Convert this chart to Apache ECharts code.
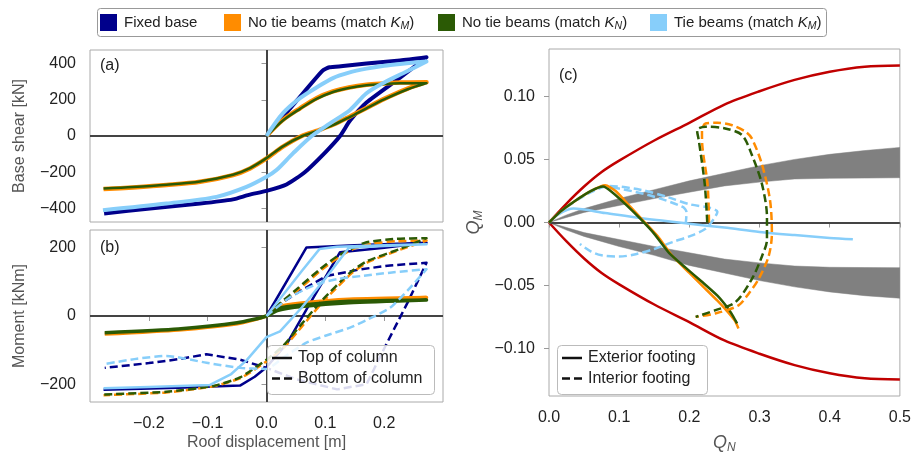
<!DOCTYPE html>
<html><head><meta charset="utf-8">
<script src="https://cdn.jsdelivr.net/npm/echarts@6/dist/echarts.min.js"></script>
<style>html,body{margin:0;padding:0;background:#fff}#c{width:914px;height:459px}</style>
</head><body><div id="c"></div>
<script>
// ---------------- DATA ----------------
// Legend / categories
const modelNames = ['Fixed base', 'No tie beams (match K_M)', 'No tie beams (match K_N)', 'Tie beams (match K_M)'];
const styleNames = ['Top of column', 'Bottom of column'];
const footingNames = ['Exterior footing', 'Interior footing'];

// Tick labels
const dispTicks = [-0.2, -0.1, 0.0, 0.1, 0.2];
const shearTicks = [-400, -200, 0, 200, 400];
const momentTicks = [-200, 0, 200];
const qnTicks = [0, 0.1, 0.2, 0.3, 0.4, 0.5];
const qmTicks = [-0.10, -0.05, 0.00, 0.05, 0.10];

// (a) Base shear [kN] vs roof displacement [m]
const shearFixed = [[0,0],[0.05,190],[0.095,360],[0.107,380],[0.13,386],[0.17,400],[0.227,417],[0.272,435],
  [0.227,322],[0.17,185],[0.142,85],[0.125,0],[0.1,-90],[0.065,-200],[0.034,-268],[0,-303],[-0.03,-325],
  [-0.057,-350],[-0.113,-373],[-0.198,-400],[-0.276,-428]];
const shearNoTieKM = [[0,0],[0.028,89],[0.057,153],[0.085,209],[0.113,246],[0.14,268],[0.17,283],[0.2,290],[0.227,295],[0.272,297],
  [0.24,262],[0.2,205],[0.17,155],[0.142,108],[0.113,62],[0.085,28],[0.06,0],[0.028,-59],[0,-124],
  [-0.028,-179],[-0.057,-216],[-0.113,-253],[-0.17,-271],[-0.227,-284],[-0.277,-293]];
const shearNoTieKN = [[0,0],[0.028,86],[0.057,150],[0.085,205],[0.113,243],[0.14,265],[0.17,280],[0.2,287],[0.227,291],[0.272,292],
  [0.24,258],[0.2,202],[0.17,153],[0.142,106],[0.113,60],[0.085,26],[0.061,0],[0.028,-57],[0,-122],
  [-0.028,-177],[-0.057,-214],[-0.113,-251],[-0.17,-269],[-0.227,-282],[-0.277,-290]];
const shearTie = [[0,0],[0.028,126],[0.057,209],[0.085,268],[0.113,320],[0.14,350],[0.17,372],[0.2,388],[0.227,398],[0.272,412],
  [0.238,356],[0.198,292],[0.17,236],[0.142,144],[0.108,70],[0.077,0],[0.045,-96],[0.017,-188],[0,-225],
  [-0.034,-281],[-0.085,-336],[-0.17,-373],[-0.278,-410]];

// (b) Moment [kNm] vs roof displacement [m]; Top = solid, Bot = dashed
const momFixedTop = [[0,0],[0.068,201],[0.15,207],[0.272,215],[0.2,200],[0.125,187],[0.07,25],[0.035,-80],[0,-150],
  [-0.02,-178],[-0.045,-204],[-0.15,-210],[-0.277,-216]];
const momFixedBot = [[0,0],[0.026,39],[0.056,72],[0.102,117],[0.16,137],[0.21,148],[0.272,156],[0.24,40],[0.203,-85],
  [0.17,-200],[0.12,-215],[0.05,-185],[0,-152],[-0.045,-128],[-0.102,-112],[-0.147,-126],[-0.2,-138],[-0.275,-152]];
const momNoTieKMTop = [[0,0],[0.02,22],[0.06,35],[0.14,45],[0.272,54],[0.14,49],[0.06,38],[0.02,27],[0,0],
  [-0.05,-23],[-0.15,-41],[-0.275,-53]];
const momNoTieKMBot = [[0,0],[0.028,40],[0.055,78],[0.095,137],[0.125,175],[0.15,198],[0.18,212],[0.22,219],[0.272,221],
  [0.23,196],[0.175,160],[0.146,127],[0.1,49],[0.061,-29],[0.032,-88],[0.004,-128],[-0.042,-180],[-0.088,-205],
  [-0.17,-224],[-0.277,-232]];
const momNoTieKNTop = [[0,0],[0.02,17],[0.06,28],[0.14,39],[0.272,47],[0.14,43],[0.06,32],[0.02,22],[0,0],
  [-0.05,-20],[-0.15,-38],[-0.275,-49]];
const momNoTieKNBot = [[0,0],[0.025,40],[0.051,78],[0.091,137],[0.12,175],[0.142,195],[0.17,216],[0.22,226],[0.272,228],
  [0.226,196],[0.17,160],[0.142,127],[0.096,49],[0.057,-29],[0.028,-88],[0,-128],[-0.045,-180],[-0.09,-205],
  [-0.17,-222],[-0.277,-230]];
const momTieTop = [[0,0],[0.03,66],[0.06,132],[0.09,196],[0.12,203],[0.2,207],[0.272,210],[0.2,205],[0.14,200],
  [0.1,110],[0.06,25],[0.023,-45],[0,-62],[-0.034,-130],[-0.06,-170],[-0.096,-202],[-0.2,-208],[-0.277,-212]];
const momTieBot = [[0,0],[0.04,55],[0.085,93],[0.12,108],[0.16,117],[0.21,127],[0.272,137],[0.24,75],[0.21,24],
  [0.17,-12],[0.142,-34],[0.1,-58],[0.068,-78],[0.03,-120],[0,-155],[-0.045,-152],[-0.102,-137],[-0.17,-117],
  [-0.22,-125],[-0.272,-140]];

// (c) Q_M vs Q_N
const boundQN = [0,0.025,0.05,0.075,0.1,0.15,0.2,0.25,0.3,0.35,0.4,0.45,0.5];
const boundQMUpper = [0,0.0150,0.0285,0.0400,0.0490,0.0650,0.0790,0.0935,0.1040,0.1130,0.1195,0.1235,0.1245];
const boundQMLower = [0,-0.0150,-0.0285,-0.0400,-0.0490,-0.0650,-0.0790,-0.0935,-0.1040,-0.1130,-0.1195,-0.1235,-0.1245];
const bandQN = [0,0.025,0.05,0.1,0.15,0.2,0.25,0.3,0.35,0.4,0.45,0.5];
const bandPosHi = [0,0.006,0.011,0.019,0.026,0.033,0.039,0.045,0.050,0.054,0.057,0.0595];
const bandPosLo = [0,0.004,0.008,0.0135,0.019,0.024,0.029,0.032,0.0345,0.035,0.0352,0.0355];
const bandNegHi = [0,-0.004,-0.008,-0.0135,-0.019,-0.024,-0.029,-0.032,-0.0345,-0.0355,-0.0357,-0.0358];
const bandNegLo = [0,-0.006,-0.011,-0.019,-0.026,-0.034,-0.040,-0.046,-0.051,-0.055,-0.058,-0.060];

const extNoTieKM = [[0,0],[0.017,0.009],[0.035,0.0163],[0.06,0.025],[0.08,0.0295],[0.095,0.025],[0.115,0.013],[0.135,0.001],
  [0.155,-0.011],[0.175,-0.026],[0.2,-0.04],[0.22,-0.051],[0.24,-0.062],[0.255,-0.071],[0.265,-0.078],[0.27,-0.084]];
const extNoTieKN = [[0,0],[0.017,0.009],[0.0344,0.0161],[0.06,0.025],[0.077,0.0285],[0.09,0.024],[0.11,0.014],[0.13,0.003],
  [0.15,-0.009],[0.171,-0.024],[0.195,-0.036],[0.218,-0.047],[0.24,-0.058],[0.255,-0.068],[0.262,-0.074],[0.268,-0.080]];
const extTie = [[0,0],[0.015,0.007],[0.035,0.011],[0.08,0.0075],[0.13,0.0035],[0.2,-0.001],[0.25,-0.004],[0.3,-0.0075],
  [0.35,-0.010],[0.4,-0.0122],[0.433,-0.0132]];
const intNoTieKM = [[0.228,0.0],[0.226,0.03],[0.2184,0.0615],[0.218,0.072],[0.223,0.0784],[0.24,0.079],[0.261,0.0771],
  [0.28,0.072],[0.289,0.0667],[0.3035,0.046],[0.315,0.0174],[0.3176,-0.0086],[0.313,-0.0267],[0.2986,-0.0449],
  [0.285,-0.056],[0.27,-0.0657],[0.237,-0.0721],[0.209,-0.0748]];
const intNoTieKN = [[0.2255,0.0],[0.222,0.03],[0.2137,0.0642],[0.211,0.0732],[0.223,0.0759],[0.251,0.0745],[0.275,0.0693],
  [0.289,0.0537],[0.3035,0.0304],[0.3106,0.0044],[0.3106,-0.0137],[0.3035,-0.0267],[0.289,-0.0449],[0.2656,-0.0631],
  [0.2373,-0.0695],[0.209,-0.0748]];
const intTie = [[0,0],[0.03,0.014],[0.06,0.024],[0.085,0.029],[0.13,0.026],[0.17,0.02],[0.2,0.0145],[0.23,0.0115],
  [0.24,0.0085],[0.235,0.003],[0.223,-0.005],[0.2,-0.011],[0.176,-0.0155],[0.15,-0.021],[0.12,-0.0255],[0.1,-0.027],
  [0.075,-0.026],[0.06,-0.023],[0.044,-0.017]];
const intTieInner = [[0.09,0.028],[0.14,0.022],[0.19,0.0125],[0.196,0.008],[0.195,0.0]];

// ---------------- STYLE ----------------
const FONT = 'Liberation Sans';
const C = { navy:'#00008b', orange:'#ff8c00', green:'#2b5a05', lb:'#87cefa', red:'#c00000', band:'#808080', zero:'#444444' };
const modelColors = [C.navy, C.orange, C.green, C.lb];
const DASH = [8, 4];
const minus = s => String(s).replace('-', '\u2212');

const chart = echarts.init(document.getElementById('c'), null, {renderer:'canvas'});

function ln(xi, data, color, width, dashed, z, smooth) {
  return { type:'line', xAxisIndex:xi, yAxisIndex:xi, data:data, showSymbol:false, symbol:'none',
    smooth: smooth || false,
    lineStyle:{ color:color, width:width, type: dashed ? DASH : 'solid', cap:'butt', join:'round' },
    itemStyle:{color:color}, z: z || 5, silent:true, animation:false };
}
function zeroLines(xi, marks) {
  return { type:'line', xAxisIndex:xi, yAxisIndex:xi, data:[], silent:true, z:3,
    markLine:{ silent:true, symbol:['none','none'], z:3, animation:false, label:{show:false},
      lineStyle:{color:C.zero, width:2, type:'solid'}, data:marks } };
}
// filled band between two edges, drawn through the axis scales
function band(xs, edgeA, edgeB) {
  return { type:'custom', xAxisIndex:2, yAxisIndex:2, data:[[xs[0], edgeA[0]]], silent:true, z:2, clip:true,
    renderItem:(params, api) => {
      const pts = xs.map((q,i)=>api.coord([q, edgeA[i]]))
        .concat(xs.map((q,i)=>api.coord([q, edgeB[i]])).reverse());
      return { type:'polygon', shape:{points:pts}, style:{fill:C.band, stroke:C.band, lineWidth:0.5} };
    } };
}

const labelStyle = { color:'#222', fontSize:16, fontFamily:FONT };
const nameStyle = { color:'#555', fontSize:16, fontFamily:FONT };
const tick = vals => ({ show:true, length:5, lineStyle:{color:'#999', width:1}, customValues:vals });
const qRich = { q:{fontSize:18, fontStyle:'italic', color:'#555', fontFamily:FONT, lineHeight:22},
                s:{fontSize:12, fontStyle:'italic', color:'#555', fontFamily:FONT, verticalAlign:'bottom'} };

const option = {
  animation:false,
  backgroundColor:'#fff',
  textStyle:{fontFamily:FONT},
  grid:[
    { left:90, top:50, width:353, height:172, show:true, borderColor:'#aaa', borderWidth:1, backgroundColor:'#fff' },
    { left:90, top:230, width:353, height:172, show:true, borderColor:'#aaa', borderWidth:1, backgroundColor:'#fff' },
    { left:549, top:49, width:353, height:353, show:true, borderColor:'#aaa', borderWidth:1, backgroundColor:'#fff' }
  ],
  xAxis:[
    { type:'value', gridIndex:0, min:-0.3, max:0.3, axisLine:{show:false}, axisTick:{show:false}, axisLabel:{show:false}, splitLine:{show:false} },
    { type:'value', gridIndex:1, min:-0.3, max:0.3, axisLine:{show:false}, axisTick:tick(dispTicks), splitLine:{show:false},
      axisLabel:Object.assign({customValues:dispTicks, margin:14, formatter:v=>minus(v.toFixed(1))}, labelStyle),
      name:'Roof displacement [m]', nameLocation:'middle', nameGap:33, nameTextStyle:nameStyle },
    { type:'value', gridIndex:2, min:0, max:0.5, axisLine:{show:false}, axisTick:tick(qnTicks), splitLine:{show:false},
      axisLabel:Object.assign({customValues:qnTicks, margin:14, formatter:v=>v.toFixed(1)}, labelStyle),
      name:'{q|Q}{s|N}', nameLocation:'middle', nameGap:36, nameTextStyle:{rich:qRich} }
  ],
  yAxis:[
    { type:'value', gridIndex:0, min:-475, max:475, axisLine:{show:false}, axisTick:tick(shearTicks), splitLine:{show:false},
      axisLabel:Object.assign({customValues:shearTicks, margin:14, formatter:v=>minus(v)}, labelStyle),
      name:'Base shear [kN]', nameLocation:'middle', nameGap:62, nameRotate:90, nameTextStyle:nameStyle },
    { type:'value', gridIndex:1, min:-252, max:252, axisLine:{show:false}, axisTick:tick(momentTicks), splitLine:{show:false},
      axisLabel:Object.assign({customValues:momentTicks, margin:14, formatter:v=>minus(v)}, labelStyle),
      name:'Moment [kNm]', nameLocation:'middle', nameGap:62, nameRotate:90, nameTextStyle:nameStyle },
    { type:'value', gridIndex:2, min:-0.1375, max:0.1375, axisLine:{show:false}, axisTick:tick(qmTicks), splitLine:{show:false},
      axisLabel:Object.assign({customValues:qmTicks, margin:14, formatter:v=>minus(v.toFixed(2))}, labelStyle),
      name:'{q|Q}{s|M}', nameLocation:'middle', nameGap:64, nameRotate:90, nameTextStyle:{rich:qRich} }
  ],
  series:[
    zeroLines(0, [{xAxis:0},{yAxis:0}]),
    ln(0, shearFixed, C.navy, 4, false, 5, 0.2),
    ln(0, shearNoTieKM, C.orange, 4.5, false, 5, 0.3),
    ln(0, shearNoTieKN, C.green, 2.5, false, 5, 0.3),
    ln(0, shearTie, C.lb, 4, false, 5, 0.3),

    zeroLines(1, [{xAxis:0},{yAxis:0}]),
    ln(1, momFixedTop, C.navy, 2.5),
    ln(1, momFixedBot, C.navy, 2.5, true),
    ln(1, momNoTieKMTop, C.orange, 3.5, false, 5, 0.2),
    ln(1, momNoTieKMBot, C.orange, 2.5, true, 5, 0.2),
    ln(1, momNoTieKNTop, C.green, 3.5, false, 5, 0.2),
    ln(1, momNoTieKNBot, C.green, 2.5, true, 5, 0.2),
    ln(1, momTieTop, C.lb, 2.5),
    ln(1, momTieBot, C.lb, 2.5, true, 5, 0.2),

    ln(2, boundQN.map((q,i)=>[q, boundQMUpper[i]]), C.red, 2.5, false, 2, 0.3),
    ln(2, boundQN.map((q,i)=>[q, boundQMLower[i]]), C.red, 2.5, false, 2, 0.3),
    band(bandQN, bandPosHi, bandPosLo),
    band(bandQN, bandNegHi, bandNegLo),
    zeroLines(2, [{yAxis:0}]),
    ln(2, intTie, C.lb, 2.5, true, 5, 0.3),
    ln(2, intTieInner, C.lb, 2.5, true, 5, 0.3),
    ln(2, extTie, C.lb, 2.5, false, 5, 0.3),
    ln(2, extNoTieKM, C.orange, 2.5, false, 5, 0.2),
    ln(2, extNoTieKN, C.green, 2.5, false, 5, 0.2),
    ln(2, intNoTieKM, C.orange, 2.5, true, 5, 0.3),
    ln(2, intNoTieKN, C.green, 2.5, true, 5, 0.3)
  ]
};

// ---------------- LEGENDS / PANEL LABELS (graphic text) ----------------
function richLabel(s) {
  const m = s.match(/^(.*)K_([MN])(\))$/);
  if (!m) return '{n|' + s + '}';
  return '{n|' + m[1] + '}{k|K}{s|' + m[2] + '}{n|' + m[3] + '}';
}
const richDef = {
  n:{fontSize:15, fontFamily:FONT, fill:'#222', lineHeight:19},
  k:{fontSize:15, fontFamily:FONT, fontStyle:'italic', fill:'#222', lineHeight:19},
  s:{fontSize:10.5, fontFamily:FONT, fontStyle:'italic', fill:'#222', verticalAlign:'bottom'}
};
const legSquareX = [100, 224, 438, 650];
const legTextX = [124, 248, 462, 674];
const graphics = [
  { type:'rect', shape:{x:97.5, y:8.5, width:729, height:28, r:3}, style:{fill:'#fff', stroke:'#999', lineWidth:1}, z:100 }
];
modelNames.forEach((nm, i) => {
  graphics.push({ type:'rect', shape:{x:legSquareX[i], y:14, width:17, height:17}, style:{fill:modelColors[i]}, z:101 });
  graphics.push({ type:'text', x:legTextX[i], y:22.5, z:101,
    style:{ text:richLabel(nm), rich:richDef, verticalAlign:'middle', align:'left' } });
});
function subLegend(x0, y0, w, h, names) {
  graphics.push({ type:'rect', shape:{x:x0+0.5, y:y0+0.5, width:w, height:h, r:4},
    style:{fill:'rgba(255,255,255,0.85)', stroke:'#bbb', lineWidth:1}, z:100 });
  names.forEach((nm, i) => {
    const yy = y0 + 13 + i*20.5;
    graphics.push({ type:'line', shape:{x1:x0+5, y1:yy, x2:x0+25, y2:yy},
      style:{stroke:'#111', lineWidth:2.5, lineDash: i ? DASH : null}, z:101 });
    graphics.push({ type:'text', x:x0+31, y:yy, z:101,
      style:{ text:nm, fontSize:16, fontFamily:FONT, fill:'#222', verticalAlign:'middle', align:'left' } });
  });
}
subLegend(267, 345, 167, 49, styleNames);
subLegend(557, 345, 150, 49, footingNames);
[['(a)', 100, 65.5], ['(b)', 100, 247.5], ['(c)', 559, 75.5]].forEach(p => {
  graphics.push({ type:'text', x:p[1], y:p[2], z:101,
    style:{ text:p[0], fontSize:16, fontFamily:FONT, fill:'#222', verticalAlign:'middle' } });
});
option.graphic = graphics;

chart.setOption(option);
</script></body></html>
